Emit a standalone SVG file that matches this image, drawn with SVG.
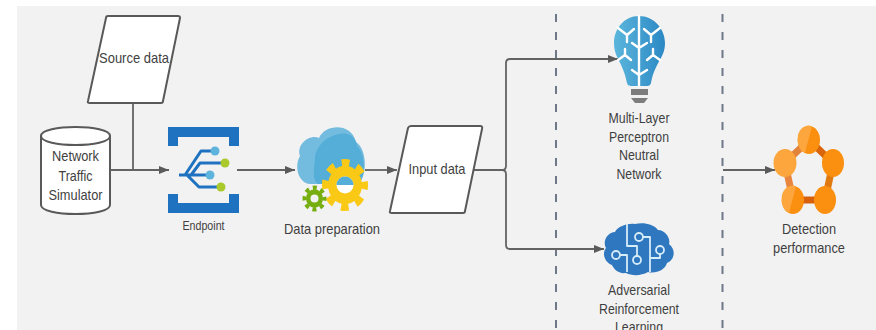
<svg xmlns="http://www.w3.org/2000/svg" width="876" height="330" viewBox="0 0 876 330">
<style>
text{font-family:"Liberation Sans",Arial,sans-serif;font-size:15px;fill:#3f3f3f;text-anchor:middle;dominant-baseline:central}
.box{fill:#fff;stroke:#595959;stroke-width:2;stroke-linejoin:round}
.conn{fill:none;stroke:#636363;stroke-width:1.8}
.dash{fill:none;stroke:#6f7888;stroke-width:2;stroke-dasharray:8 10}
.brn{fill:none;stroke:#fff;stroke-width:2.400;stroke-linecap:round;stroke-linejoin:round}
.ckt{fill:none;stroke:#d6ecf8;stroke-width:1.800;stroke-linejoin:round}
.tree{fill:none;stroke:#1f72bf;stroke-width:3;stroke-linejoin:round}
.pin{fill:#2f78c0;stroke:#d6ecf8;stroke-width:1.800}
.link{fill:none}
.lt{fill:#fca63d}
.dk{fill:#fb8f0f}
</style>
<defs>
<marker id="arr" viewBox="0 0 10 8" refX="10" refY="4" markerWidth="10" markerHeight="8" markerUnits="userSpaceOnUse" orient="auto"><path d="M0 0L10 4L0 8Z" fill="#5a5a5a"/></marker>
<linearGradient id="bulb" x1="0" x2="1" y1="0" y2="0"><stop offset="0" stop-color="#5bb6dc"/><stop offset="1" stop-color="#2c88c4"/></linearGradient>
</defs>
<rect x="0" y="0" width="876" height="330" fill="#fff"/>
<rect x="17" y="6" width="859" height="324" fill="#f2f2f2"/>
<g id="connectors">
<path class="dash" d="M556 14V330"/>
<path class="dash" d="M722.500 14V330"/>
<path class="conn" d="M133 104V170"/>
<path class="conn" d="M111 170H169" marker-end="url(#arr)"/>
<path class="conn" d="M237 170H295" marker-end="url(#arr)"/>
<path class="conn" d="M365 170H397" marker-end="url(#arr)"/>
<path class="conn" d="M473 170H502Q506 170 506 166V63Q506 59 510 59H618" marker-end="url(#arr)"/>
<path class="conn" d="M502 170Q506 170 506 174V245Q506 249 510 249H604" marker-end="url(#arr)"/>
<path class="conn" d="M723 170H775" marker-end="url(#arr)"/>
</g>
<g id="source-data">
<path class="box" d="M108 16H178Q180 16 180 18L163 101Q163 103 161 103H90Q87 103 88 101L106 18Q106 16 108 16Z"/>
<text x="134" y="57" textLength="70" lengthAdjust="spacingAndGlyphs">Source data</text>
</g>
<g id="network-traffic-simulator">
<path class="box" d="M41 136C41 124 110 124 110 136V205C110 217 41 217 41 205Z"/>
<path class="box" fill="none" style="fill:none" d="M41 136C41 148 110 148 110 136"/>
<text x="75.500" y="155" textLength="47" lengthAdjust="spacingAndGlyphs">Network</text>
<text x="75.500" y="175" textLength="34" lengthAdjust="spacingAndGlyphs">Traffic</text>
<text x="75.500" y="194" textLength="54" lengthAdjust="spacingAndGlyphs">Simulator</text>
</g>
<g id="endpoint">
<path fill="#1f72bf" d="M168 127H239V146H229V137H178V146H168Z"/>
<path fill="#1f72bf" d="M168 194H178V203H229V194H239V213H168Z"/>
<path class="tree" d="M179 175H210M185 175L201 151H215M191 175L200 163H225M187 175L199 187H221"/>
<circle cx="215" cy="151" r="4.500" fill="#5fb4de"/>
<circle cx="225" cy="163" r="4.500" fill="#a9c92c"/>
<circle cx="210" cy="175" r="4.500" fill="#5fb4de"/>
<circle cx="221" cy="187" r="4.500" fill="#a9c92c"/>
<text x="203.500" y="226" style="font-size:12px" textLength="42" lengthAdjust="spacingAndGlyphs">Endpoint</text>
</g>
<g id="data-preparation">
<path fill="#74bcdf" d="M310 184C298 183 294 166 300 156C296 144 310 134 319 138C325 124 351 122 356 142C368 150 367 178 358 184Z"/>
<path fill="#54aed8" d="M318 184C312 180 314 170 315 158C316 146 326 136 340 134C350 132 356 138 357 146C366 154 366 178 358 184Z"/>
<g id="gear-yellow">
<g transform="translate(345 185) scale(1 1.130)">
<circle r="17" fill="#f9c916"/>
<circle r="19" fill="none" stroke="#f9c916" stroke-width="8" stroke-dasharray="7.500 7.420" stroke-dashoffset="3.750"/>
</g>
<circle cx="345" cy="185" r="8.500" fill="#fff"/>
<path fill="#54aed8" d="M336.500 185A8.500 8.500 0 0 1 353.500 185Z"/>
</g>
<g id="gear-green">
<g transform="translate(314.500 198.500) scale(1 1.080)">
<circle r="8.500" fill="#76ae0f"/>
<circle r="10" fill="none" stroke="#76ae0f" stroke-width="4" stroke-dasharray="4 3.850" stroke-dashoffset="2"/>
</g>
<circle cx="314.500" cy="198.500" r="4" fill="#f2f2f2"/>
</g>
<text x="332" y="228" textLength="96" lengthAdjust="spacingAndGlyphs">Data preparation</text>
</g>
<g id="input-data">
<path class="box" d="M411 126H480Q483 126 482 129L465 211Q465 213 463 213H392Q389 213 390 211L408 128Q409 126 411 126Z"/>
<text x="437" y="168" textLength="57" lengthAdjust="spacingAndGlyphs">Input data</text>
</g>
<g id="multi-layer-perceptron">
<path fill="url(#bulb)" d="M639 16C654 16 665 29 665 43C665 58 655 62 651 83C650 86 648 86 646 86H632C630 86 628 86 627 83C623 62 614 58 614 43C614 29 624 16 639 16Z"/>
<path class="brn" d="M639 16V86M618 28L627 35V42M634 29L627 35M660 28L651 35V42M644 29L651 35M632 43L639 48L647 43M625 49V55L618 60M625 55L631 60M653 49V55L660 60M653 55L647 60M632 70L639 75L647 70"/>
<rect x="631" y="89" width="17" height="6" fill="#7d7d7d"/>
<path fill="#7d7d7d" d="M631 98H648L644 103H635Z"/>
<text x="639" y="117" textLength="61" lengthAdjust="spacingAndGlyphs">Multi-Layer</text>
<text x="639" y="136" textLength="60" lengthAdjust="spacingAndGlyphs">Perceptron</text>
<text x="639" y="154" textLength="40" lengthAdjust="spacingAndGlyphs">Neutral</text>
<text x="639" y="173" textLength="45" lengthAdjust="spacingAndGlyphs">Network</text>
</g>
<g id="adversarial-reinforcement-learning">
<path fill="#2f78c0" d="M626 273C618 274 614 269 612 265C604 262 602 253 606 248C602 241 608 232 615 232C618 226 628 223 635 224C643 222 654 224 658 230C665 230 671 238 669 244C676 249 675 260 667 263C665 270 656 274 648 272C641 276 632 276 626 273Z"/>
<path class="ckt" d="M627 224V246H637V256M620 255H627V272M643 237H650V272M650 258H660V254"/>
<circle class="pin" cx="639" cy="237" r="4"/>
<circle class="pin" cx="616" cy="255" r="4"/>
<circle class="pin" cx="637" cy="260" r="4"/>
<circle class="pin" cx="660" cy="250" r="4"/>
<text x="639" y="289" textLength="62" lengthAdjust="spacingAndGlyphs">Adversarial</text>
<text x="639" y="308" textLength="80" lengthAdjust="spacingAndGlyphs">Reinforcement</text>
<text x="639" y="326" textLength="48" lengthAdjust="spacingAndGlyphs">Learning</text>
</g>
<g id="detection-performance">
<path class="link" stroke="#e3833a" stroke-width="7" d="M785 163L809 140"/>
<path class="link" stroke="#d9660a" stroke-width="7" d="M809 140L833 163"/>
<path class="link" stroke="#e8853e" stroke-width="7" d="M785 163L793 200"/>
<path class="link" stroke="#e07a10" stroke-width="7" d="M833 163L825 200"/>
<path class="link" stroke="#d9600a" stroke-width="7" d="M793 200H825"/>
<ellipse class="dk" cx="809" cy="140" rx="11" ry="14"/>
<path class="lt" d="M812 126.300A11 14 0 0 0 805 153.100Z"/>
<ellipse class="lt" cx="785" cy="163" rx="11.500" ry="14"/>
<ellipse class="dk" cx="833" cy="163" rx="11" ry="14"/>
<ellipse class="dk" cx="793" cy="200" rx="11" ry="14"/>
<path class="lt" d="M796 186.300A11 14 0 0 0 789 213.100Z"/>
<ellipse class="dk" cx="825" cy="200" rx="11" ry="14"/>
<text x="809" y="228" textLength="54" lengthAdjust="spacingAndGlyphs">Detection</text>
<text x="809" y="247" textLength="72" lengthAdjust="spacingAndGlyphs">performance</text>
</g>
</svg>
